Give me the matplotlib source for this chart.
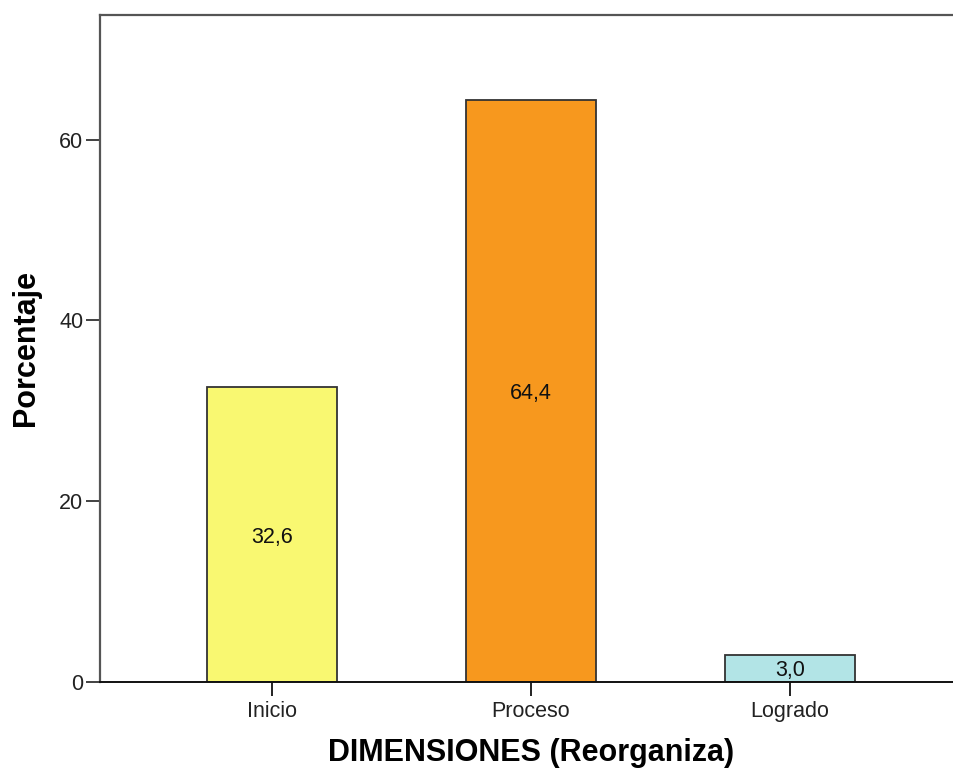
import numpy as np
import matplotlib
matplotlib.use("Agg")
import matplotlib.pyplot as plt

categories = ["Inicio", "Proceso", "Logrado"]
percentages = [32.6, 64.4, 3.0]
bar_colors = ["#F9F871", "#F7981E", "#B2E4E6"]
y_ticks = [0, 20, 40, 60]

plt.rcParams['font.family'] = ['Liberation Sans', 'DejaVu Sans']

fig = plt.figure(figsize=(9.54, 7.74), dpi=100)
ax = fig.add_axes([100 / 954, 92 / 774, 862 / 954, 667 / 774])

x = np.arange(len(categories))
bars = ax.bar(x, percentages, width=0.5, color=bar_colors,
              edgecolor="#333333", linewidth=1.3, zorder=2)

# value labels in the middle of each bar
for xi, val in zip(x, percentages):
    ax.text(xi, val / 2, f"{val:.1f}".replace(".", ","), ha="center",
            va="center_baseline", fontsize=15.5, color="#111111", zorder=3)

ax.set_xlim(-0.664, 2.664)
ax.set_ylim(0, 73.8)
ax.set_xticks(x)
ax.set_xticklabels(categories)
ax.set_yticks(y_ticks)

for side in ["left", "top", "right"]:
    ax.spines[side].set_color("#555555")
    ax.spines[side].set_linewidth(1.6)
ax.spines["bottom"].set_color("#111111")
ax.spines["bottom"].set_linewidth(1.4)

ax.tick_params(axis="y", direction="out", length=10, width=1.3,
               colors="#333333", labelsize=15.5, labelcolor="#222222", pad=2)
ax.tick_params(axis="x", direction="out", length=10, width=1.3,
               colors="#111111", labelsize=15.5, labelcolor="#222222", pad=4)

ax.set_xlabel("DIMENSIONES (Reorganiza)", fontsize=22, fontweight="bold",
              labelpad=11)
ax.set_ylabel("Porcentaje", fontsize=22, fontweight="bold", labelpad=13)

fig.savefig("out.png", dpi=100)
